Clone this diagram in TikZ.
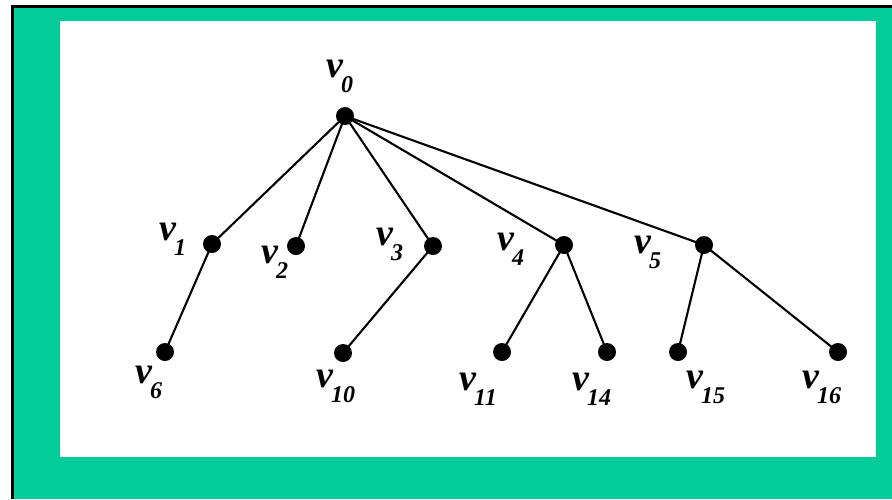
\documentclass[tikz,border=0pt]{standalone}
\usepackage{fontspec}
\setmainfont{Liberation Serif}
\definecolor{frameg}{RGB}{2,204,153}
\newcommand{\vlab}[1]{\fontsize{38}{38}\selectfont\bfseries\itshape v\kern-2pt\raisebox{-15pt}{\fontsize{24}{24}\selectfont #1}}
\begin{document}
\begin{tikzpicture}[x=1pt,y=-1pt,
  vert/.style={circle,fill=black,inner sep=0pt,minimum size=18pt},
  vlabel/.style={anchor=base west,inner sep=0pt},
  edge/.style={line width=2.1pt}]
\useasboundingbox (0,0) rectangle (892,499);
\fill[white] (0,0) rectangle (892,499);
\fill[frameg] (12,6) rectangle (892,499);
\draw[line width=3pt] (12,499) -- (12,6) -- (892,6);
\fill[white] (60,21) rectangle (876,457);
% vertices
\node[vert] (v0) at (345,116) {};
\node[vert] (v1) at (212,244) {};
\node[vert] (v2) at (296,246) {};
\node[vert] (v3) at (433,246) {};
\node[vert] (v4) at (564,245) {};
\node[vert] (v5) at (704,245) {};
\node[vert] (v6) at (165,352) {};
\node[vert] (v10) at (343,353) {};
\node[vert] (v11) at (502,352) {};
\node[vert] (v14) at (607,352) {};
\node[vert] (v15) at (678,352) {};
\node[vert] (v16) at (838,352) {};
% edges
\draw[edge] (v0.center) -- (v1.center);
\draw[edge] (v0.center) -- (v2.center);
\draw[edge] (v0.center) -- (v3.center);
\draw[edge] (v0.center) -- (v4.center);
\draw[edge] (v0.center) -- (v5.center);
\draw[edge] (v1.center) -- (v6.center);
\draw[edge] (v3.center) -- (v10.center);
\draw[edge] (v4.center) -- (v11.center);
\draw[edge] (v4.center) -- (v14.center);
\draw[edge] (v5.center) -- (v15.center);
\draw[edge] (v5.center) -- (v16.center);
% labels
\node[vlabel] (l0) at (326,77) {\vlab{0}};
\node[vlabel] (l1) at (159,240) {\vlab{1}};
\node[vlabel] (l2) at (261,263) {\vlab{2}};
\node[vlabel] (l3) at (376,245) {\vlab{3}};
\node[vlabel] (l4) at (497,250) {\vlab{4}};
\node[vlabel] (l5) at (634,253) {\vlab{5}};
\node[vlabel] (l6) at (135,383) {\vlab{6}};
\node[vlabel] (l10) at (316,387) {\vlab{10}};
\node[vlabel] (l11) at (459,390) {\vlab{11}};
\node[vlabel] (l14) at (572,390) {\vlab{14}};
\node[vlabel] (l15) at (686,388) {\vlab{15}};
\node[vlabel] (l16) at (802,388) {\vlab{16}};
\end{tikzpicture}
\end{document}
